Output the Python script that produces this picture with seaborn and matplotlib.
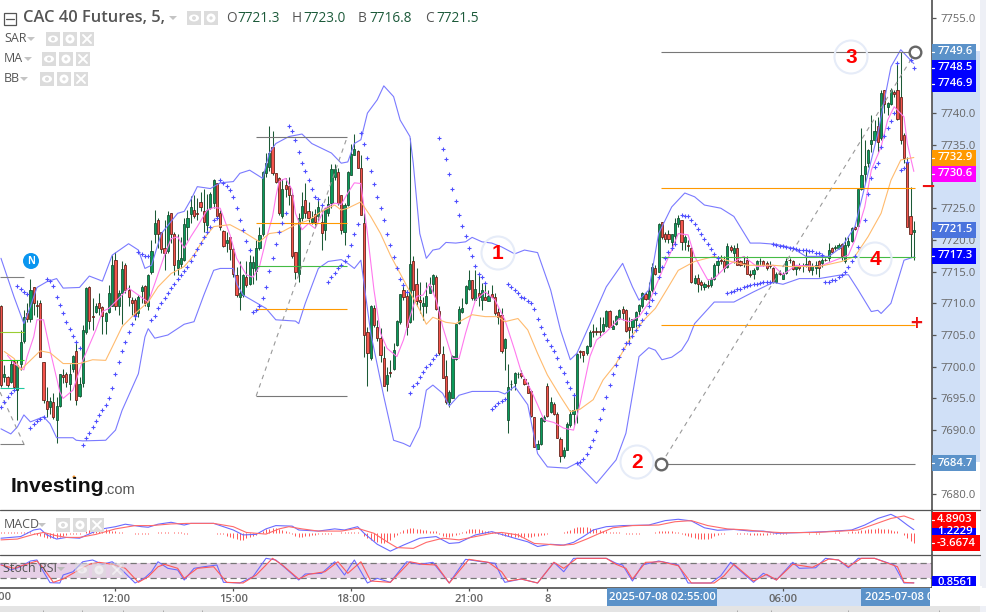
import numpy as np
import matplotlib
matplotlib.use('Agg')
import matplotlib.pyplot as plt
from matplotlib.patches import Rectangle, Circle, Ellipse, Polygon
import seaborn as sns

sns.set_theme(style='white')
plt.rcParams['font.family'] = ['Open Sans', 'DejaVu Sans']

# ── OHLC, one value per 5 min bar ────────────────────────────────────────────
opens = [
    7709.5,7698.4,7698.3,7697.6,7700.9,7696.3,7700.5,7704.1,7708.4,7707.5,
    7712.5,7709.7,7710.1,7700.7,7694.6,7693.7,7694.4,7691.6,7693.8,7698.7,
    7698.9,7697.2,7699.7,7702.4,7695.4,7697.4,7705.4,7712.5,7708.0,7708.7,
    7710.1,7709.4,7707.2,7708.7,7709.6,7716.9,7709.5,7711.7,7716.0,7712.1,
    7710.6,7710.5,7708.4,7712.0,7712.7,7709.6,7715.0,7720.9,7723.2,7721.2,
    7718.8,7718.3,7724.2,7721.0,7715.6,7716.2,7716.9,7722.1,7724.1,7724.7,
    7724.2,7726.0,7724.6,7722.4,7725.1,7725.8,7728.9,7724.2,7721.4,7719.5,
    7720.4,7718.5,7714.5,7711.0,7711.3,7714.1,7713.1,7715.6,7715.1,7718.7,
    7721.0,7730.5,7731.5,7734.6,7730.5,7729.7,7723.7,7728.7,7728.5,7727.1,
    7718.1,7714.7,7723.4,7726.3,7724.6,7722.9,7724.1,7723.7,7722.9,7721.5,
    7724.3,7725.9,7730.0,7730.7,7727.1,7721.3,7725.5,7730.2,7733.4,7734.1,
    7731.3,7722.6,7705.4,7701.3,7709.2,7706.2,7704.5,7701.3,7697.2,7699.1,
    7699.7,7703.4,7707.1,7712.1,7711.2,7707.0,7716.6,7713.0,7710.5,7709.5,
    7709.6,7711.7,7713.0,7714.1,7708.8,7702.0,7698.5,7694.5,7695.1,7701.2,
    7706.9,7708.7,7710.0,7712.2,7713.7,7710.6,7711.7,7710.5,7711.0,7710.4,
    7711.4,7711.0,7708.7,7708.2,7702.9,7691.6,7697.2,7697.5,7698.8,7699.0,
    7698.1,7696.9,7696.1,7692.1,7687.0,7687.8,7691.5,7696.9,7692.8,7694.1,
    7692.6,7688.6,7685.9,7686.9,7690.8,7692.6,7693.4,7702.4,7702.4,7702.1,
    7703.2,7705.7,7705.7,7705.6,7705.7,7706.4,7708.8,7706.0,7706.7,7707.7,
    7709.1,7708.9,7706.2,7706.2,7707.3,7708.8,7709.5,7711.5,7710.7,7712.1,
    7715.5,7715.0,7722.8,7721.0,7720.9,7719.7,7720.6,7722.5,7723.1,7719.6,
    7719.2,7718.8,7713.2,7714.0,7713.3,7712.6,7712.9,7712.9,7713.9,7716.0,
    7716.8,7716.7,7715.8,7718.9,7718.0,7718.8,7716.6,7716.3,7716.9,7714.7,
    7714.6,7715.4,7716.6,7716.6,7716.3,7716.0,7715.6,7713.3,7714.8,7713.9,
    7714.8,7716.9,7716.7,7715.4,7715.9,7716.0,7716.1,7716.7,7715.2,7715.5,
    7716.6,7716.3,7716.9,7717.1,7718.8,7718.7,7718.7,7719.3,7716.6,7719.2,
    7719.9,7722.0,7722.2,7728.0,7730.4,7732.2,7735.2,7735.8,7738.0,7736.0,
    7743.6,7740.9,7741.4,7743.4,7743.6,7742.5,7736.6,7732.3,7723.7,7721.3,
]
highs = [
    7709.7,7700.2,7698.5,7701.0,7701.0,7701.0,7705.8,7708.9,7710.0,7713.9,
    7712.6,7710.5,7710.5,7700.7,7696.8,7695.2,7695.8,7695.2,7698.9,7699.7,
    7699.2,7700.5,7701.8,7703.7,7698.4,7706.6,7712.6,7712.7,7710.8,7710.0,
    7711.6,7709.5,7708.7,7712.9,7717.6,7718.1,7712.1,7716.6,7716.3,7712.9,
    7711.0,7710.8,7711.3,7712.9,7712.9,7714.6,7720.0,7724.7,7723.4,7721.3,
    7723.1,7724.5,7724.3,7721.3,7721.0,7720.5,7723.4,7724.7,7727.0,7727.1,
    7726.6,7727.5,7728.1,7727.3,7727.6,7729.6,7729.0,7724.7,7721.6,7721.3,
    7720.5,7718.9,7715.8,7716.6,7714.7,7716.6,7717.6,7717.4,7720.0,7722.1,
    7730.9,7733.7,7738.0,7737.2,7730.6,7729.9,7729.6,7729.7,7730.0,7727.5,
    7718.1,7724.2,7727.5,7729.0,7726.0,7724.5,7724.8,7726.3,7724.7,7725.0,
    7727.0,7732.0,7732.0,7731.3,7727.1,7725.8,7730.8,7735.2,7736.7,7734.2,
    7733.4,7724.2,7706.3,7709.7,7709.7,7707.4,7706.1,7703.2,7700.0,7701.1,
    7703.7,7707.4,7711.4,7713.2,7712.1,7736.0,7717.4,7715.5,7713.4,7711.0,
    7713.4,7714.2,7714.7,7714.5,7709.5,7703.2,7701.1,7696.3,7701.8,7706.8,
    7709.5,7710.8,7712.9,7715.2,7713.7,7715.2,7714.7,7713.2,7713.4,7712.1,
    7712.9,7711.6,7709.2,7709.2,7704.6,7700.5,7697.9,7699.2,7699.1,7699.5,
    7698.2,7697.6,7696.3,7692.1,7688.4,7692.1,7692.4,7697.4,7695.3,7694.5,
    7692.9,7688.9,7687.4,7691.3,7693.2,7695.8,7702.1,7702.6,7702.4,7703.4,
    7705.8,7706.8,7706.3,7707.9,7707.9,7708.9,7708.9,7707.4,7708.2,7709.1,
    7709.5,7709.1,7707.9,7707.6,7708.8,7709.9,7711.8,7711.8,7713.4,7716.3,
    7716.0,7722.6,7722.9,7721.3,7721.5,7721.0,7723.4,7723.9,7723.2,7720.8,
    7720.0,7718.9,7714.5,7714.6,7713.7,7713.4,7713.7,7714.2,7716.3,7717.4,
    7717.6,7717.4,7719.5,7719.2,7719.2,7719.5,7716.8,7717.4,7717.4,7715.2,
    7715.5,7716.8,7717.2,7716.8,7716.6,7716.6,7715.8,7715.0,7715.2,7715.0,
    7717.1,7717.1,7716.8,7716.0,7716.3,7716.3,7718.4,7716.8,7716.3,7716.6,
    7716.8,7717.1,7717.1,7719.5,7718.9,7719.2,7719.5,7719.5,7720.4,7720.4,
    7722.1,7722.2,7728.1,7737.6,7735.8,7734.4,7739.7,7738.9,7739.4,7743.6,
    7743.7,7741.8,7743.9,7743.6,7747.8,7749.6,7736.8,7733.1,7728.4,7723.0,
]
lows = [
    7696.8,7697.6,7696.8,7697.5,7696.6,7691.6,7699.5,7703.7,7707.1,7707.1,
    7708.1,7707.9,7701.6,7694.2,7692.1,7692.6,7691.8,7687.9,7693.7,7697.4,
    7696.8,7694.7,7699.2,7693.9,7695.2,7696.8,7705.2,7706.0,7705.8,7708.4,
    7708.1,7705.2,7705.2,7708.4,7709.5,7708.9,7708.1,7706.8,7711.6,7709.5,
    7708.1,7707.4,7707.9,7710.0,7709.5,7708.9,7714.7,7719.5,7718.7,7717.9,
    7715.2,7717.9,7719.5,7714.5,7714.5,7715.5,7716.6,7720.0,7722.6,7723.4,
    7723.1,7724.6,7721.3,7721.0,7724.8,7725.0,7723.5,7721.6,7718.9,7718.1,
    7716.8,7714.2,7711.0,7708.9,7711.0,7712.6,7712.9,7713.1,7713.7,7718.4,
    7720.6,7730.0,7730.8,7730.2,7729.0,7723.9,7723.5,7726.8,7725.5,7717.2,
    7713.9,7713.4,7723.0,7723.5,7722.9,7722.5,7722.3,7723.0,7718.4,7720.0,
    7723.7,7725.0,7729.5,7725.5,7721.0,7719.2,7725.3,7730.2,7733.4,7731.3,
    7724.0,7701.6,7696.9,7701.1,7706.3,7704.0,7700.8,7696.9,7696.1,7698.4,
    7699.5,7703.2,7706.8,7710.5,7705.0,7706.9,7707.4,7709.5,7708.4,7707.4,
    7708.4,7711.6,7711.6,7709.0,7701.9,7698.2,7694.1,7693.7,7695.0,7701.1,
    7706.8,7708.4,7709.9,7712.1,7710.5,7710.5,7709.5,7708.9,7710.5,7710.3,
    7711.0,7708.2,7706.8,7702.1,7699.5,7689.6,7696.3,7696.3,7698.2,7698.2,
    7697.1,7695.8,7692.1,7687.3,7687.0,7687.7,7691.3,7692.1,7692.7,7692.4,
    7688.7,7684.9,7685.6,7686.8,7690.5,7690.8,7691.1,7701.3,7700.8,7701.9,
    7703.1,7704.7,7705.0,7704.7,7705.5,7706.3,7706.2,7705.9,7706.6,7707.6,
    7707.4,7705.5,7703.7,7705.3,7706.3,7708.2,7709.2,7710.5,7710.0,7711.8,
    7714.5,7714.9,7720.2,7719.7,7719.5,7718.4,7719.5,7722.1,7718.4,7718.4,
    7718.2,7713.2,7713.0,7711.8,7712.1,7712.1,7712.4,7712.6,7713.7,7714.7,
    7716.2,7715.0,7715.6,7718.1,7716.3,7716.0,7715.9,7715.8,7714.6,7714.2,
    7713.9,7715.2,7716.0,7715.9,7715.2,7715.5,7713.2,7713.2,7714.5,7713.8,
    7714.7,7716.3,7715.2,7714.5,7715.3,7715.0,7715.8,7715.0,7714.5,7714.7,
    7714.2,7715.8,7716.6,7716.6,7718.0,7718.4,7718.5,7716.8,7716.3,7718.9,
    7719.7,7721.5,7722.1,7727.9,7728.9,7731.5,7733.9,7735.5,7733.9,7735.8,
    7740.0,7739.7,7741.3,7742.6,7738.9,7735.2,7732.1,7722.1,7717.3,7716.8,
]
closes = [
    7697.1,7698.9,7697.1,7700.4,7696.8,7700.2,7703.9,7707.9,7707.5,7712.1,
    7710.0,7709.6,7701.6,7694.8,7693.4,7694.6,7692.0,7693.8,7698.9,7698.4,
    7697.6,7698.9,7701.7,7694.8,7697.2,7705.8,7712.4,7707.2,7707.9,7709.6,
    7709.2,7708.0,7708.4,7711.7,7716.1,7709.5,7711.7,7715.4,7712.1,7711.0,
    7710.0,7708.1,7711.0,7712.5,7710.1,7714.5,7718.2,7722.6,7721.0,7718.5,
    7717.9,7724.0,7720.9,7716.0,7716.9,7717.2,7722.5,7723.4,7725.2,7723.8,
    7724.1,7725.2,7722.9,7724.7,7727.2,7729.4,7723.7,7722.1,7719.1,7720.0,
    7718.6,7714.6,7711.3,7711.7,7714.4,7712.9,7716.5,7716.5,7718.7,7720.8,
    7730.7,7732.2,7733.7,7730.5,7729.2,7724.2,7728.0,7728.1,7727.1,7717.4,
    7715.0,7723.4,7725.4,7724.2,7723.4,7723.4,7722.9,7725.2,7721.1,7725.0,
    7725.7,7731.2,7731.2,7725.9,7721.6,7725.5,7730.7,7733.5,7734.4,7731.4,
    7724.0,7705.0,7702.1,7709.6,7706.6,7704.5,7701.9,7697.0,7698.7,7699.0,
    7702.7,7707.2,7711.4,7711.0,7706.2,7716.2,7712.1,7710.4,7710.2,7710.0,
    7711.2,7712.7,7714.4,7709.1,7702.1,7698.2,7694.5,7696.0,7701.7,7706.7,
    7709.1,7709.2,7712.7,7713.7,7710.8,7712.3,7711.0,7712.1,7710.6,7711.2,
    7711.0,7708.4,7707.9,7702.4,7704.4,7696.8,7697.3,7699.0,7698.9,7698.6,
    7697.2,7695.9,7692.3,7687.4,7687.8,7691.9,7692.1,7692.2,7694.4,7692.6,
    7688.8,7685.9,7686.9,7690.9,7692.6,7693.2,7702.0,7702.3,7701.8,7703.3,
    7705.4,7705.4,7705.4,7705.4,7706.8,7708.8,7706.3,7706.4,7708.0,7708.9,
    7708.5,7705.7,7705.8,7707.5,7708.7,7709.7,7711.7,7710.7,7712.0,7715.7,
    7714.7,7722.5,7720.5,7720.1,7720.1,7720.9,7722.6,7723.4,7719.6,7720.4,
    7719.1,7713.3,7714.0,7713.0,7712.9,7713.0,7712.8,7713.9,7716.0,7716.7,
    7716.7,7715.6,7719.1,7718.4,7718.8,7716.1,7716.0,7716.2,7714.7,7714.4,
    7715.2,7716.7,7716.7,7716.0,7715.5,7715.9,7713.3,7714.6,7714.7,7714.6,
    7716.6,7716.8,7715.4,7715.9,7715.6,7715.9,7716.2,7715.2,7715.9,7716.0,
    7715.5,7716.9,7716.8,7718.4,7718.1,7718.9,7719.2,7717.4,7719.2,7719.9,
    7721.8,7721.7,7728.1,7730.2,7731.7,7734.2,7735.8,7737.1,7735.5,7743.1,
    7741.5,7741.6,7743.6,7743.0,7739.0,7735.7,7732.9,7722.1,7721.0,7721.5,
]

# ── Parabolic SAR (nan = no dot on that bar) ─────────────────────────────────
nan = float('nan')
sar = [
    7693.6,7694.5,7695.2,7695.8,7696.4,7712.7,7712.2,7711.8,7711.4,7690.4,
    7690.9,7691.5,7691.8,7692.1,7713.9,7713.5,7712.7,7711.0,7709.7,7708.4,
    7707.1,7706.0,7704.9,7703.9,7702.9,7687.7,7688.7,7689.6,7690.5,7691.5,
    7692.4,7693.1,7693.9,7695.0,7696.7,7698.8,7700.7,7702.4,7703.9,7705.4,
    7706.7,7708.0,7718.1,7717.8,7717.5,7717.4,7707.4,7708.0,7709.2,7710.0,
    7710.8,7711.6,7712.4,7713.1,7713.8,7714.5,7715.1,7715.8,7716.6,7717.6,
    7718.5,7719.5,7720.4,7721.2,7722.1,7723.1,7723.4,7729.4,7729.0,7728.5,
    7727.9,7726.7,7725.1,7723.1,7721.6,7719.9,7718.4,7708.7,7708.9,7709.6,
    7710.8,7712.5,7715.1,7717.2,7719.4,7721.2,7722.6,7724.2,7738.0,7737.2,
    7735.8,7733.9,7732.2,7730.8,7729.4,7728.1,7726.8,7726.4,7725.5,nan,
    7713.4,7714.1,7714.8,7715.5,7716.1,7716.7,7717.4,7719.2,7720.9,7722.5,
    7736.8,7735.2,7732.9,7730.9,7728.8,7726.8,7725.0,7723.2,7721.0,7719.2,
    7717.3,7715.5,7713.8,7712.9,7711.8,7695.9,7696.9,7697.5,7698.3,7699.1,
    7699.9,7700.5,7701.2,7701.9,7736.0,7734.3,7732.7,7730.4,7728.1,7726.1,
    7724.0,7722.2,7720.6,7718.8,7717.5,7715.9,7714.6,7714.2,7713.2,nan,
    7693.4,7693.8,7694.2,7694.6,7694.9,7713.0,7712.5,7712.1,7711.6,7711.0,
    7710.8,7710.3,7710.0,7709.1,7707.6,7706.3,7705.2,7704.2,7703.2,7702.4,
    7701.3,7700.0,7699.0,7697.6,7696.6,7695.5,7684.8,7685.0,7685.4,7686.2,
    7687.4,7688.4,7689.8,7691.7,7693.3,7695.2,7697.1,7698.8,7700.3,7701.5,
    7702.8,7703.8,7703.8,7704.8,7705.8,7706.6,7707.4,7708.4,7709.5,7710.5,
    7711.7,7714.1,7715.8,7717.1,7718.1,7718.7,7719.3,nan,7723.9,7723.8,
    7723.8,7723.2,7722.5,7721.7,7720.9,7720.1,7719.3,7718.5,7717.8,7717.1,
    nan,nan,7711.7,7711.8,7711.9,7712.2,7712.3,7712.6,7712.7,7712.9,
    7713.0,7713.0,7713.2,7713.3,7713.3,7713.4,7719.3,7719.2,7719.1,7719.0,
    7718.9,7718.8,7718.7,7718.5,7718.4,7718.4,7718.4,7718.3,7718.2,7718.0,
    7717.9,7717.6,7713.3,7713.4,7713.6,7713.6,7714.1,7714.5,7715.0,7715.8,
    7716.6,7717.4,7718.9,nan,7723.1,7727.3,7729.7,7731.5,7732.2,7734.7,
    7736.4,7737.6,7738.7,7740.0,7747.9,7731.0,7731.3,7732.3,7748.4,7747.1,
]

bb_up_i = [0,4,7,9,11,14,17,19,24,27,31,34,39,42,44,46,49,54,56,58,60,64,67,71,73,76,80,82,84,88,92,95,101,
           104,106,108,110,112,115,117,120,122,125,126,128,130,132,134,136,139,142,144,147,150,153,157,160,164,
           168,171,174,176,181,185,190,193,195,198,201,205,209,212,215,220,224,229,232,237,242,246,253,257,261,
           264,268,272,275,277,279]
bb_up_v = [7717.1,7711.0,7706.8,7709.5,7712.5,7713.4,7713.9,7712.4,7712.5,7714.3,7713.5,7717.6,7719.4,7718.4,
           7715.5,7716.0,7721.0,7724.2,7724.5,7726.3,7728.4,7728.1,7729.0,7729.2,7730.5,7731.0,7729.7,7733.7,
           7735.2,7736.3,7736.7,7735.2,7733.7,7732.1,7732.3,7735.2,7735.8,7740.0,7742.1,7744.3,7742.6,7738.9,
           7736.3,7732.1,7721.0,7717.1,7718.4,7718.6,7719.6,7719.5,7719.7,7720.4,7719.7,7719.5,7718.9,7717.8,
           7718.4,7718.0,7712.1,7705.8,7701.1,7702.1,7707.9,7712.6,7716.3,7712.6,7710.5,7712.1,7721.0,7725.2,
           7727.4,7726.8,7725.5,7725.0,7723.7,7719.5,7719.5,7719.3,7718.7,7717.4,7717.4,7718.9,7722.1,7728.4,
           7736.8,7747.3,7750.0,7748.9,7747.8]
bb_lo_i = [0,3,5,7,9,13,15,17,22,23,25,32,35,37,42,44,45,47,51,56,59,62,65,67,71,72,74,81,84,90,91,93,97,100,
           104,106,108,110,113,117,120,123,125,128,130,132,135,137,140,144,152,154,157,161,164,167,173,176,182,
           188,191,195,198,200,202,205,208,210,212,218,224,230,236,239,244,250,257,259,262,266,268,269,272,276,279]
bb_lo_v = [7690.2,7689.4,7690.5,7692.4,7691.3,7692.1,7691.0,7688.8,7688.8,7688.4,7688.3,7688.4,7690.0,7693.1,
           7698.9,7704.7,7706.0,7704.5,7705.0,7706.7,7707.1,7711.3,7715.2,7715.5,7715.5,7713.1,7711.3,7709.2,
           7707.4,7707.2,7706.8,7710.0,7715.5,7716.6,7716.9,7716.3,7715.5,7716.8,7705.3,7695.3,7688.4,7687.9,
           7687.4,7690.5,7696.3,7697.1,7695.8,7693.8,7695.5,7696.1,7696.1,7695.7,7696.9,7694.0,7686.3,7684.2,
           7684.0,7684.8,7681.6,7685.3,7689.5,7701.6,7703.0,7702.6,7701.1,7701.5,7702.6,7704.2,7706.8,7710.2,
           7710.2,7711.8,7713.3,7713.0,7713.9,7713.9,7714.5,7714.5,7712.1,7708.7,7708.9,7708.4,7710.0,7716.8,
           7717.3]
ma_fast_i = [2,4,7,8,10,11,13,15,18,19,22,25,29,31,33,37,39,42,45,47,50,52,54,56,58,60,63,65,67,70,72,75,77,79,
             81,83,84,85,87,89,90,92,94,96,99,102,104,106,108,110,112,114,116,118,121,123,125,127,129,131,133,
             135,138,140,142,145,148,151,154,157,159,162,164,166,169,172,175,177,180,182,185,189,192,195,198,
             202,205,207,210,212,216,218,222,227,231,236,239,243,250,254,259,261,264,266,269,271,273,276,277,279]
ma_fast_v = [7701.8,7700.5,7699.5,7701.6,7704.7,7707.4,7707.4,7702.6,7696.0,7695.0,7696.3,7701.0,7705.8,7708.7,
             7709.2,7711.3,7712.4,7711.3,7710.2,7713.1,7717.6,7720.2,7720.5,7718.7,7720.5,7722.1,7724.7,7725.1,
             7725.0,7720.8,7717.1,7714.5,7714.1,7715.8,7720.0,7723.7,7726.8,7729.2,7729.7,7727.9,7724.2,7721.6,
             7722.6,7721.8,7725.0,7725.8,7725.6,7727.4,7729.0,7728.9,7721.0,7712.1,7705.3,7702.9,7701.6,7704.2,
             7707.9,7711.1,7711.3,7713.1,7710.5,7706.3,7701.3,7701.3,7705.3,7710.5,7711.8,7710.5,7707.4,7702.6,
             7699.2,7696.3,7694.0,7691.6,7691.2,7690.3,7690.0,7694.2,7701.6,7704.2,7705.5,7707.6,7707.1,7707.9,
             7710.1,7715.0,7718.4,7721.0,7720.8,7717.4,7713.7,7713.9,7716.0,7717.4,7715.8,7716.0,7714.5,7716.0,
             7715.8,7716.6,7717.6,7720.0,7725.2,7731.0,7734.7,7738.9,7741.0,7739.4,7735.2,7730.8]
ma_slow_i = [1,4,6,9,12,15,19,24,28,32,34,37,41,45,48,52,56,59,62,65,70,74,79,82,86,90,94,98,102,104,106,110,113,
             116,119,122,125,128,130,132,136,139,144,148,152,154,158,161,164,167,171,174,177,181,184,188,192,196,
             200,204,207,212,218,223,228,236,241,250,257,261,265,269,272,275,279]
ma_slow_v = [7702.4,7701.3,7699.5,7701.0,7702.5,7702.2,7700.5,7700.5,7701.1,7701.0,7703.1,7706.3,7708.4,7710.2,
             7712.6,7714.7,7715.8,7717.6,7720.2,7722.1,7722.4,7721.3,7719.7,7721.0,7721.3,7722.4,7723.1,7724.5,
             7725.5,7724.7,7725.0,7726.0,7723.7,7721.0,7717.6,7714.7,7711.8,7708.9,7706.7,7707.8,7707.0,7706.8,
             7708.2,7707.9,7707.9,7707.1,7707.6,7705.8,7702.1,7698.7,7695.3,7692.9,7693.3,7694.8,7697.9,7700.5,
             7704.2,7707.1,7709.2,7712.6,7715.2,7716.6,7717.4,7716.6,7716.0,7716.0,7715.8,7715.8,7716.6,7717.4,
             7720.5,7724.2,7729.4,7732.6,7733.0]

# ── MACD pane ────────────────────────────────────────────────────────────────
macd_i = [0,3,6,10,12,14,17,20,24,28,31,35,38,43,45,48,52,56,58,65,68,71,74,78,81,84,89,91,97,102,105,109,111,115,
          119,123,128,133,137,140,145,150,153,157,161,164,168,172,175,178,181,185,190,198,203,207,211,215,219,224,
          229,233,237,243,252,260,264,268,272,274,277,279]
macd_v = [-1.9,-1.6,-1.3,1.1,1.5,-0.7,-2.2,-1.6,-1.9,0.2,1.5,2.3,3.2,2.3,2.1,3.2,3.9,2.9,3.5,3.5,2.3,1.1,-0.7,-0.5,
          1.5,2.7,2.5,1.1,0.7,1.5,1.1,2.3,-0.1,-4.1,-6.6,-4.4,-1.9,-1.3,-3.8,-3.5,-0.7,0.5,-0.5,-1.9,-3.2,-4.9,-4.1,
          -4.4,-3.4,-1.3,1.1,2.3,2.7,2.9,4.5,5.0,4.4,1.9,1.0,1.3,0.7,0.7,-0.1,0.1,0.5,1.1,2.9,5.3,6.8,5.6,2.9,1.22]
signal_i = [0,5,10,13,17,20,24,29,35,41,46,52,57,65,71,75,81,85,88,92,97,104,109,114,118,121,126,130,135,140,145,150,
            153,158,163,167,171,175,179,183,187,193,201,206,211,216,222,228,233,239,249,257,262,267,272,276,279]
signal_v = [-2.5,-2.2,-0.5,0.2,-1.0,-1.6,-1.6,-0.5,1.5,2.7,2.7,3.3,3.5,3.5,2.3,0.2,-0.4,1.5,2.3,1.5,0.7,0.7,1.7,-0.1,
            -3.2,-5.3,-5.6,-3.4,-1.9,-2.5,-1.3,-0.1,0.2,-0.7,-3.8,-4.1,-4.5,-4.1,-2.2,-0.1,1.9,2.7,2.9,4.1,4.5,2.7,
            1.5,1.1,0.5,0.1,0.2,0.7,1.1,3.2,5.3,6.2,4.89]
hist = [
    .2,.2,.3,.3,.4,.3,.3,.4,.5,.5, -.4,-.9,-1.2,-1.6,-1.8,-1.8,-1.9,-1.7,-1.5,-1.0,
    -.6,-.3,-.2,-.3,-.2,.1,.9,1.1,1.4,1.5, 1.5,1.4,1.3,1.1,.9,.7,.4,.2,.1,-.1,
    -.1,-.3,-.4,-.4,-.2,-.2,0,.1,.3,.3, .4,.3,.1,.2,.3,.2,-.2,-.2,0,0,
    0,0,0,0,0,0,-.2,-.3,-.5,-1.0, -1.4,-1.8,-2.3,-2.5,-2.4,-1.9,-1.6,-1.0,-.6,.3,
    .8,1.3,1.6,1.9,1.7,1.4,1.1,.8,.2,-.4, -1.2,-1.6,-1.4,-1.2,-1.1,-.9,-.7,-.5,-.4,-.3,
    -.3,-.2,0,.1,.2,.3,.3,.4,.3,.2, -.1,-1.0,-1.9,-2.6,-3.0,-3.4,-3.5,-3.6,-3.2,-2.5,
    -1.6,-.7,.5,1.0,1.5,1.7,1.7,1.5,1.3,1.2, 1.1,.9,.8,.6,-.4,-1.1,-1.4,-1.4,-1.2,-.9,
    -.4,.4,.9,1.4,1.6,1.6,1.4,1.1,.8,.6, .4,.2,-.3,-.6,-1.0,-1.2,-1.3,-1.4,-1.4,-1.4,
    -1.5,-1.4,-1.3,-1.2,-1.0,-.8,-.7,-.4,0,0, 0,0,.4,.7,1.2,1.7,2.1,2.3,2.3,2.1,
    1.9,1.6,1.3,1.0,.8,.6,.5,.4,.3,.2, 0,-.2,-.3,-.2,-.2,-.2,0,0,0,0,
    .3,.6,.8,.9,.9,.7,.5,.3,-.2,-.8, -1.2,-1.6,-1.9,-2.1,-2.3,-2.2,-2.0,-1.7,-1.2,-.9,
    -.5,-.2,0,0,0,-.2,-.3,-.4,-.5,-.6, -.6,-.7,-.8,-.8,-.6,-.4,-.4,-.4,-.3,-.3,
    -.2,0,0,0,0,0,0,-.2,0,-.2, -.3,.1,.1,.1,.1,.2,.2,.1,.1,.2,
    .6,.4,.9,1.0,1.2,1.4,1.5,1.6,1.7,1.6, 1.5,1.4,1.2,.9,.6,.1,-.9,-1.8,-2.9,-3.67,
]

# ── Stoch RSI pane ───────────────────────────────────────────────────────────
k_i = [0,3,6,9,11,13,15,18,19,22,25,28,31,34,37,41,44,46,48,51,54,56,59,62,66,68,73,77,81,84,87,91,93,98,102,105,108,
       112,115,119,124,128,132,137,142,147,151,153,154,159,164,169,172,175,185,188,190,193,196,201,207,210,217,220,
       223,230,233,237,242,244,249,252,256,259,262,267,273,276,279]
k_v = [74.7,52,65,88,92,45,1.3,0,32,45,85,92,74.7,85,52,0,21,45,85,58.7,52,12,58.7,65,72,2.7,0,25,98.7,92,58.7,12,36,
       38.7,85,32,92,0,18.7,2.7,85,74.7,82.7,0,94.7,85,78.7,25,2.7,16,0,82.7,45,98.7,98.7,78.7,72,8,72,88,72,0,0,29,
       82.7,2.7,38.7,12,82.7,58.7,61,98.7,92,61,98.7,98.7,72,0,0.86]
d_i = [0,4,7,11,13,16,19,22,27,30,34,38,42,45,48,50,54,56,60,65,69,74,78,83,86,91,94,99,103,106,110,113,119,125,129,
       133,137,143,149,153,155,159,164,169,172,176,185,188,191,193,197,202,207,211,218,221,224,230,234,237,242,248,
       253,256,259,263,267,274,276,279]
d_v = [72,58.7,72,88,58.7,2.7,16,38.7,74.7,82.7,74.7,58.7,2.7,25,65,74.7,58.7,18.7,58.7,65,2.7,0,32,98.7,72,16,34.7,
       45,85,38.7,85,8,2.7,85,74.7,72,0,94.7,82.7,45,8,16,0,82.7,58.7,98.7,98.7,74.7,58.7,16,82.7,85,69,0,0,29,74.7,8,
       34.7,12,74.7,62.7,96,92,65,98.7,98.7,65,2.7,0]

# ── Axis text and drawn levels ───────────────────────────────────────────────
price_ticks = [7755,7750,7745,7740,7735,7730,7725,7720,7715,7710,7705,7700,7695,7690,7685,7680]
time_pos = [35,71,107,143,167,239]
time_labels = ['12:00','15:00','18:00','21:00','8','06:00']
fib_a = [7714.1,7705.5,7701.1,7696.6,7687.8]
fib_b = [7736.2,7722.7,7715.9,7709.1,7695.4]
fib_c = [7749.6,7728.2,7717.3,7706.6,7684.7]
fib_colors_a = ['#808080','#9acd32','#22cc22','#20c9a0','#808080']
fib_colors = ['#777777','#ff9900','#44bb44','#ff9900','#777777']
right_tags = [(52,'7749.6','#5b92c9'),(68,'7748.5','#0000ff'),(84,'7746.9','#0000ff'),
              (158,'7732.9','#ff9900'),(174,'7730.6','#ff00ff'),(230,'7721.5','#4a74dd'),
              (256,'7717.3','#0000ff'),(463,'7684.7','#5b92c9')]
scroll_ticks = [43,82,123,163,202,737,771,848,939]

W, H = 1006, 612
PAN_R = 931.5
TXT = '#666666'
X_LIM = (-0.3, 284.4)
FS = 8.1


def pane(y_top, y_bot):
    return plt.gcf().add_axes([0, 1 - y_bot / H, PAN_R / W, (y_bot - y_top) / H])


def line(ax, idx, val, color, lw=0.8):
    sns.lineplot(x=idx, y=val, ax=ax, color=color, linewidth=lw, estimator=None,
                 legend=False, zorder=3)


fig = plt.figure(figsize=(W / 100, H / 100), dpi=100, facecolor='white')

# background chrome (under the panes)
bg = fig.add_axes([0, 0, 1, 1], zorder=0)
bg.set_xlim(0, W); bg.set_ylim(H, 0); bg.axis('off')
bg.add_patch(Rectangle((932, 51), 48, 411, color='#d0e0f7', lw=0))
bg.add_patch(Rectangle((607, 588), 323, 18, color='#d0e0f7', lw=0))
bg.add_patch(Rectangle((980, 0), 6, H, color='#eef0f6', lw=0))
bg.add_patch(Rectangle((0, 606), 980, 6, color='#e4e4e4', lw=0))
bg.vlines(scroll_ticks, 610, 612, color='#aaaaaa', lw=0.7)

# ── main pane ────────────────────────────────────────────────────────────────
ax = pane(0, 510)
ax.set_zorder(1)
ax.patch.set_alpha(0)
bars = np.arange(len(closes))
o, h, l, c = map(np.array, (opens, highs, lows, closes))
up = c >= o
ax.vlines(bars, l, h, color='#1c5a36', lw=0.75, zorder=2)
ax.bar(bars[up], np.maximum(c - o, 0.08)[up], bottom=o[up], width=0.66, color='#0a9a5a',
       edgecolor='#124a2c', linewidth=0.55, zorder=2.5)
ax.bar(bars[~up], np.maximum(o - c, 0.08)[~up], bottom=c[~up], width=0.66, color='#f4544c',
       edgecolor='#5a1a10', linewidth=0.55, zorder=2.5)

line(ax, bb_up_i, bb_up_v, '#7a7aff')
line(ax, bb_lo_i, bb_lo_v, '#7a7aff')
line(ax, ma_fast_i, ma_fast_v, '#ff78ee')
line(ax, ma_slow_i, ma_slow_v, '#ffbb6e')
sns.scatterplot(x=bars, y=sar, ax=ax, marker='+', s=7, color='#4f4fff', linewidth=0.8,
                legend=False, zorder=4)

# drawn fibonacci style levels
ax.hlines(fib_a, -0.3, 7, colors=fib_colors_a, lw=0.8, zorder=3)
ax.hlines(fib_b, 78, 105.8, colors=fib_colors, lw=0.8, zorder=3)
ax.hlines(fib_c, 201.8, 279.5, colors=fib_colors, lw=0.8, zorder=3)
ax.plot([-0.3, 7], [7696, fib_a[4]], color='#999999', lw=0.8, ls=(0, (4, 4)), zorder=3)
ax.plot([78, 105.8], [fib_b[4], fib_b[0]], color='#999999', lw=0.8, ls=(0, (4, 4)), zorder=3)
ax.plot([201.8, 279.5], [fib_c[4], fib_c[0]], color='#999999', lw=0.8, ls=(0, (4, 4)), zorder=3)
sns.scatterplot(x=[201.8, 279.5], y=[fib_c[4], fib_c[0]], ax=ax, s=70, color='white', edgecolor='#666666',
                linewidth=1.7, legend=False, zorder=5)

ax.set_xlim(*X_LIM)
ax.set_ylim(7677.4, 7757.84)
ax.set_xticks([])
ax.yaxis.tick_right()
ax.set_yticks(price_ticks)
ax.set_yticklabels([f'{p:.1f}' for p in price_ticks], fontsize=FS, color=TXT)
ax.tick_params(axis='y', length=3, width=0.9, color='#555555', pad=3.5, right=True)
ax.spines[['top', 'left', 'bottom']].set_visible(False)
ax.spines['right'].set_color('#555555')
ax.set_xlabel(''); ax.set_ylabel('')

# ── MACD pane ────────────────────────────────────────────────────────────────
ax_m = pane(510, 554.5)
ax_m.set_zorder(1)
ax_m.patch.set_alpha(0)
ax_m.vlines(np.arange(len(hist)), 0, hist, color='#ff4a4a', lw=0.65, zorder=2)
line(ax_m, macd_i, macd_v, '#6a6aff')
line(ax_m, signal_i, signal_v, '#ff6a6a')
ax_m.set_xlim(*X_LIM)
ax_m.set_ylim(-7.82, 8.37)
ax_m.set_xticks([]); ax_m.set_yticks([])
ax_m.spines[['top', 'left', 'bottom']].set_visible(False)
ax_m.spines['right'].set_color('#555555')

# ── Stoch RSI pane ───────────────────────────────────────────────────────────
ax_s = pane(554.5, 587.5)
ax_s.set_zorder(1)
ax_s.patch.set_alpha(0)
ax_s.axhspan(20, 80, color='#e6cfe6', lw=0, zorder=1)
ax_s.hlines([20, 80], *X_LIM, color='#777777', lw=0.9, ls=(0, (5, 3)), zorder=2)
line(ax_s, k_i, k_v, '#6a6aff')
line(ax_s, d_i, d_v, '#ff5a5a')
ax_s.set_xlim(*X_LIM)
ax_s.set_ylim(-18, 114)
ax_s.set_yticks([])
ax_s.set_xticks(time_pos)
ax_s.set_xticklabels(time_labels, fontsize=FS, color=TXT, fontweight='semibold')
ax_s.tick_params(axis='x', length=2.5, width=0.9, color='#555555', pad=2.5, bottom=True)
ax_s.spines[['top', 'left']].set_visible(False)
ax_s.spines[['right', 'bottom']].set_color('#555555')

# ── overlay: labels, badges, icons ───────────────────────────────────────────
top = fig.add_axes([0, 0, 1, 1], zorder=5)
top.set_xlim(0, W); top.set_ylim(H, 0); top.axis('off')


def tag(y, text, color, width=44):
    top.add_patch(Rectangle((932, y - 8), width, 16, color=color, lw=0))
    top.plot([932, 934.5], [y, y], color='white', lw=0.9)
    top.text(955, y, text, color='white', fontsize=FS, fontweight='semibold', ha='center', va='center')


def icons(xs, y, alpha=1.0):
    for i, x in enumerate(xs):
        top.add_patch(Rectangle((x, y), 14, 14, color='#dcdcdc', lw=0, alpha=alpha))
        cx, cy = x + 7, y + 7
        if i == 0:
            top.add_patch(Ellipse((cx, cy), 10, 7, fc='white', ec='none', alpha=alpha))
            top.add_patch(Circle((cx, cy), 2, fc='#dcdcdc', ec='none', alpha=alpha))
        elif i == 1:
            top.add_patch(Circle((cx, cy), 4.5, fc='white', ec='none', alpha=alpha))
            top.add_patch(Circle((cx, cy), 1.7, fc='#dcdcdc', ec='none', alpha=alpha))
        else:
            top.plot([cx - 4, cx + 4], [cy - 4, cy + 4], color='white', lw=1.4, alpha=alpha)
            top.plot([cx - 4, cx + 4], [cy + 4, cy - 4], color='white', lw=1.4, alpha=alpha)


def caret(x, y, color='#c4c4c4'):
    top.add_patch(Polygon([(x - 4, y - 2), (x + 4, y - 2), (x, y + 2)], color=color, lw=0))


# header
top.add_patch(Rectangle((4.5, 12.5), 12, 12, fc='none', ec='#555555', lw=0.9))
top.plot([6.5, 14.5], [18.5, 18.5], color='#555555', lw=0.9)
top.text(23, 18, 'CAC 40 Futures, 5,', fontsize=11.9, color='#555555', va='center', fontweight='semibold')
caret(173, 18)
icons([187, 204], 11)
for x, letter, val in [(226, 'O', '7721.3'), (292, 'H', '7723.0'), (358, 'B', '7716.8'), (425, 'C', '7721.5')]:
    top.text(x, 18, letter, fontsize=9.8, color='#555555', va='center')
    top.text(x + 11.5, 18, val, fontsize=9.8, color='#1c5a3a', va='center')
for y, name, tx, xs in [(39, 'SAR', 31, [46, 63, 80]), (59, 'MA', 28, [42, 59, 76]), (79, 'BB', 24, [40, 57, 74])]:
    top.text(4, y, name, fontsize=9, color='#555555', va='center')
    caret(tx, y)
    icons(xs, y - 7)

# round number markers
for x, y, s in [(498, 253, '1'), (637, 462, '2'), (851, 57, '3'), (875, 259, '4')]:
    top.add_patch(Circle((x, y), 16.5, fc='none', ec='#e6ecf8', lw=1.5))
    top.text(x, y + 0.5, s, color='#ff0000', fontsize=15, fontweight='bold', ha='center', va='center',
             family='Liberation Sans')
top.text(928, 187, '−', color='#ee1111', fontsize=13, fontweight='bold', ha='center', va='center',
         family='DejaVu Sans')
top.text(916, 323.5, '+', color='#ee1111', fontsize=12, fontweight='bold', ha='center', va='center',
         family='DejaVu Sans')

# news badge and logo
top.add_patch(Circle((31, 261), 8, fc='#0a96f0', ec='none'))
top.text(31, 261, 'N', color='white', fontsize=7, fontweight='bold', ha='center', va='center')
top.text(11, 487, 'Investing', color='#111111', fontsize=15.3, fontweight='bold', va='center',
         family='Liberation Sans')
top.text(104, 489.5, '.com', color='#555555', fontsize=10.5, va='center', family='Liberation Sans')
top.add_patch(Circle((74, 477), 1.5, fc='#f0902a', ec='none'))

# pane captions
top.text(4, 525, 'MACD', fontsize=9, color='#555555', va='center')
caret(42, 525)
icons([56, 73, 90], 518)
top.text(3, 569, 'Stoch RSI', fontsize=9, color='#555555', va='center')
caret(61, 569, '#bbbbbb')
icons([75, 92, 110], 563, alpha=0.55)

# pane separators
top.plot([0, 980], [509.5, 509.5], color='#555555', lw=0.9)
top.plot([0, 980], [554.5, 554.5], color='#555555', lw=0.9)

# price tags at the right
for y, txt, col in right_tags:
    tag(y, txt, col)
top.add_patch(Rectangle((932, 576), 44, 11, color='#0000ff', lw=0))
top.text(955, 582.5, '0.8561', color='white', fontsize=FS, fontweight='semibold', ha='center', va='center')
top.add_patch(Rectangle((932, 586), 50, 2, color='white', lw=0))
top.add_patch(Rectangle((932, 528), 44, 8, color='#0000ff', lw=0))
top.text(955, 531.5, '1.2229', color='white', fontsize=FS, fontweight='semibold', ha='center', va='center')
tag(520, '4.8903', '#ff0000')
top.add_patch(Rectangle((932, 535), 48, 16, color='#ff0000', lw=0))
top.plot([932, 934.5], [543, 543], color='white', lw=0.9)
top.text(956, 543, '-3.6674', color='white', fontsize=FS, fontweight='semibold', ha='center', va='center')

# cursor date badges
top.add_patch(Rectangle((607, 588), 110, 18, color='#5b92c9', lw=0))
top.add_patch(Rectangle((861, 588), 69, 18, color='#5b92c9', lw=0))
top.text(662, 597, '2025-07-08 02:55:00', color='white', fontsize=8.1, fontweight='semibold', ha='center',
         va='center')
top.text(865, 597, '2025-07-08 02:55:00', color='white', fontsize=8.1, fontweight='semibold', ha='left',
         va='center')
top.add_patch(Rectangle((930, 588), 56, 18, color='white', lw=0))
top.text(-3, 597, '09:00', fontsize=FS, color=TXT, fontweight='semibold', ha='center', va='center')

fig.savefig('out.png', dpi=100, facecolor='white')
